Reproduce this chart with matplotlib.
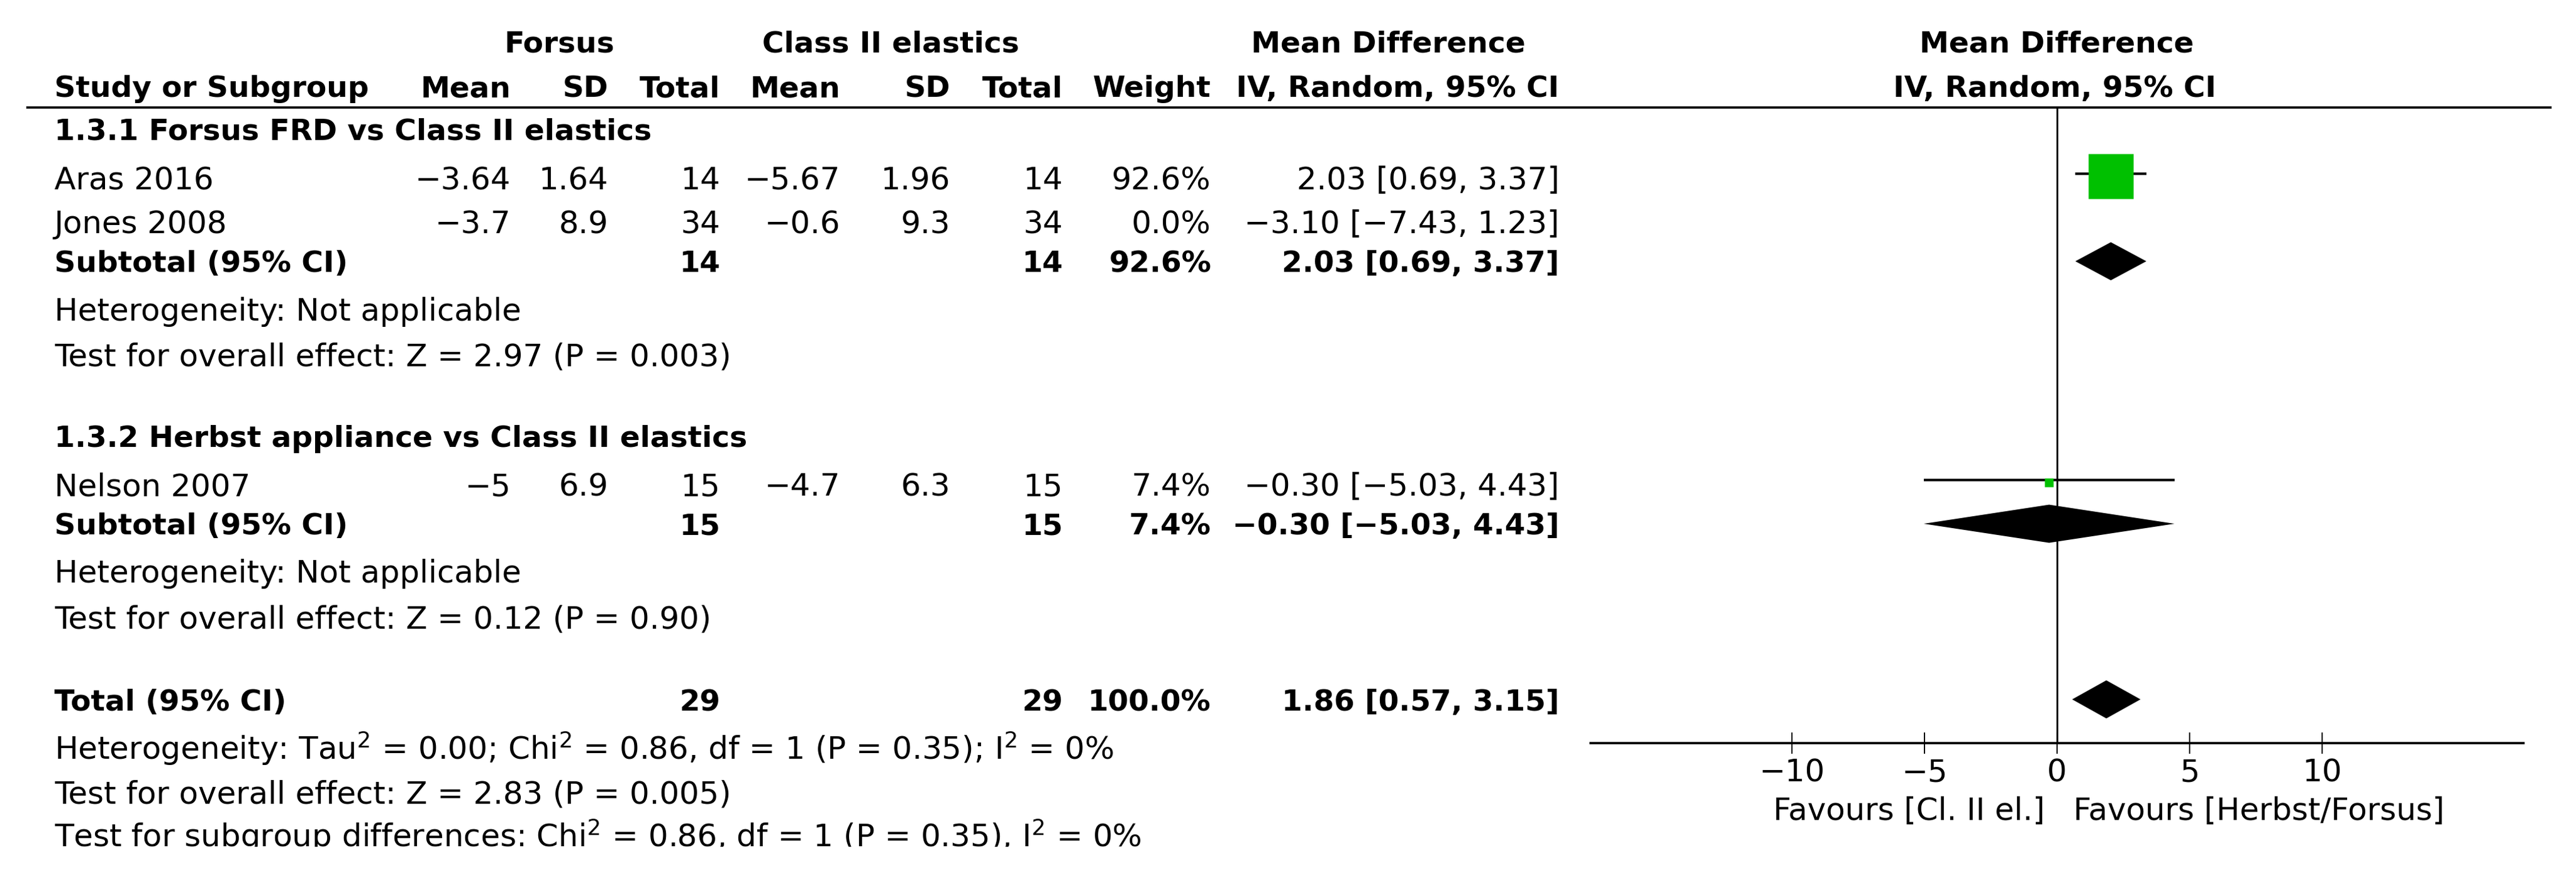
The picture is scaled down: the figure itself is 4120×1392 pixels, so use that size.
import matplotlib
matplotlib.use("Agg")
from matplotlib import pyplot as plt
from matplotlib.patches import Rectangle

plt.rcParams['font.family'] = ['DejaVu Sans']
plt.rcParams['font.size'] = 36

# study level data
studies = ["Aras 2016", "Jones 2008", "Nelson 2007"]
study_group = [0, 0, 1]
forsus_mean = [-3.64, -3.7, -5]
forsus_sd = [1.64, 8.9, 6.9]
forsus_n = [14, 34, 15]
cl2_mean = [-5.67, -0.6, -4.7]
cl2_sd = [1.96, 9.3, 6.3]
cl2_n = [14, 34, 15]
weights = [92.6, 0.0, 7.4]
md = [2.03, -3.10, -0.30]
ci_lo = [0.69, -7.43, -5.03]
ci_hi = [3.37, 1.23, 4.43]

# subgroup data
subgroups = ["1.3.1 Forsus FRD vs Class II elastics",
             "1.3.2 Herbst appliance vs Class II elastics"]
sub_n1 = [14, 15]
sub_n2 = [14, 15]
sub_weight = [92.6, 7.4]
sub_md = [2.03, -0.30]
sub_lo = [0.69, -5.03]
sub_hi = [3.37, 4.43]
sub_het = ["Heterogeneity: Not applicable", "Heterogeneity: Not applicable"]
sub_z = ["Test for overall effect: Z = 2.97 (P = 0.003)",
         "Test for overall effect: Z = 0.12 (P = 0.90)"]

# overall
total_n1, total_n2 = 29, 29
total_weight = 100.0
total_md, total_lo, total_hi = 1.86, 0.57, 3.15
footer = ["Heterogeneity: Tau$^2$ = 0.00; Chi$^2$ = 0.86, df = 1 (P = 0.35); I$^2$ = 0%",
          "Test for overall effect: Z = 2.83 (P = 0.005)",
          "Test for subgroup differences: Chi$^2$ = 0.86, df = 1 (P = 0.35), I$^2$ = 0%"]

ticks = [-10, -5, 0, 5, 10]
favours = ["Favours [Cl. II el.]", "Favours [Herbst/Forsus]"]
col_heads = ["Mean", "SD", "Total", "Mean", "SD", "Total", "Weight", "IV, Random, 95% CI"]

GREEN = "#00c000"
W, H = 4120, 1392
BOLD_SIZE = 34  # the bold face in the original runs a bit narrower


def num(v):
    return f"{v:g}".replace("-", "\u2212")


def ci_text(m, lo, hi):
    return f"{m:.2f} [{lo:.2f}, {hi:.2f}]".replace("-", "\u2212")


fig = plt.figure(figsize=(W / 100, H / 100), dpi=100)
ax = fig.add_axes([0, 0, 1, 1])
ax.set_xlim(0, W)
ax.set_ylim(H, 0)
ax.axis("off")

# layout (pixels)
x_label = 87
col_right = [817, 973, 1152, 1344, 1520, 1700, 1937, 2494]
y_head1, y_head2, y_rule = 83, 155, 172
y_group = [223, 715]
y_study = [303, 373, 793]
y_sub = [435, 855]
y_het = [513, 932]
y_z = [585, 1005]
y_total = 1137
y_footer = [1215, 1285, 1355]
y_axis = 1189


def put(x, y, s, ha="left", bold=False):
    if bold:
        ax.text(x, y, s, ha=ha, va="baseline", fontweight="bold", fontsize=BOLD_SIZE)
    else:
        ax.text(x, y, s, ha=ha, va="baseline")


# headers
put(895, y_head1, "Forsus", ha="center", bold=True)
put(1425, y_head1, "Class II elastics", ha="center", bold=True)
put(2220, y_head1, "Mean Difference", ha="center", bold=True)
put(3289, y_head1, "Mean Difference", ha="center", bold=True)
put(x_label, y_head2, "Study or Subgroup", bold=True)
for x, s in zip(col_right, col_heads):
    put(x, y_head2, s, ha="right", bold=True)
put(3286, y_head2, "IV, Random, 95% CI", ha="center", bold=True)
ax.plot([42, 4081], [y_rule, y_rule], color="black", lw=2.6, solid_capstyle="butt")

# study rows
for i, name in enumerate(studies):
    y = y_study[i]
    put(x_label, y, name)
    vals = [num(forsus_mean[i]), num(forsus_sd[i]), str(forsus_n[i]),
            num(cl2_mean[i]), num(cl2_sd[i]), str(cl2_n[i]),
            f"{weights[i]:.1f}%", ci_text(md[i], ci_lo[i], ci_hi[i])]
    for x, s in zip(col_right, vals):
        put(x, y, s, ha="right")

# subgroup rows
for g, title in enumerate(subgroups):
    put(x_label, y_group[g], title, bold=True)
    y = y_sub[g]
    put(x_label, y, "Subtotal (95% CI)", bold=True)
    put(col_right[2], y, str(sub_n1[g]), ha="right", bold=True)
    put(col_right[5], y, str(sub_n2[g]), ha="right", bold=True)
    put(col_right[6], y, f"{sub_weight[g]:.1f}%", ha="right", bold=True)
    put(col_right[7], y, ci_text(sub_md[g], sub_lo[g], sub_hi[g]), ha="right", bold=True)
    put(x_label, y_het[g], sub_het[g])
    put(x_label, y_z[g], sub_z[g])

put(x_label, y_total, "Total (95% CI)", bold=True)
put(col_right[2], y_total, str(total_n1), ha="right", bold=True)
put(col_right[5], y_total, str(total_n2), ha="right", bold=True)
put(col_right[6], y_total, f"{total_weight:.1f}%", ha="right", bold=True)
put(col_right[7], y_total, ci_text(total_md, total_lo, total_hi), ha="right", bold=True)
for y, s in zip(y_footer, footer):
    put(x_label, y, s)

# forest plot
fx0, fx1 = 2544, 4036
fp = fig.add_axes([fx0 / W, 1 - y_axis / H, (fx1 - fx0) / W, (y_axis - y_rule) / H])
fp.set_xlim(-17.6, 17.6)
fp.set_ylim(y_axis, y_rule)
fp.patch.set_visible(False)
for side in ["top", "left", "right"]:
    fp.spines[side].set_visible(False)
fp.spines["bottom"].set_linewidth(2.6)
fp.set_yticks([])
fp.set_xticks(ticks)
fp.tick_params(axis="x", direction="inout", length=24.5, width=1.4, labelsize=36, pad=5)
fp.axvline(0, color="black", lw=2.0)

wmax = max(weights)
for i in range(len(studies)):
    if weights[i] == 0:
        continue
    y = y_study[i]
    fp.plot([ci_lo[i], ci_hi[i]], [y - 25, y - 25], color="black", lw=2.9, solid_capstyle="butt")
    side_px = 73 * (weights[i] / wmax) ** 0.66
    fp.plot(md[i], y - 21, marker="s", ms=side_px * 0.72, color=GREEN, mec="none")


def diamond(m, lo, hi, y, h=61):
    fp.fill([lo, m, hi, m], [y, y - h / 2, y, y + h / 2], color="black", lw=0)


for g in range(len(subgroups)):
    diamond(sub_md[g], sub_lo[g], sub_hi[g], y_sub[g] - 17)
diamond(total_md, total_lo, total_hi, y_total - 18)

put(3270, 1312, favours[0], ha="right")
put(3316, 1312, favours[1], ha="left")

# picture is cut off at the bottom
ax.add_patch(Rectangle((0, 1355), W, H - 1355, color="white", zorder=10))

fig.savefig("out.png", dpi=100)
